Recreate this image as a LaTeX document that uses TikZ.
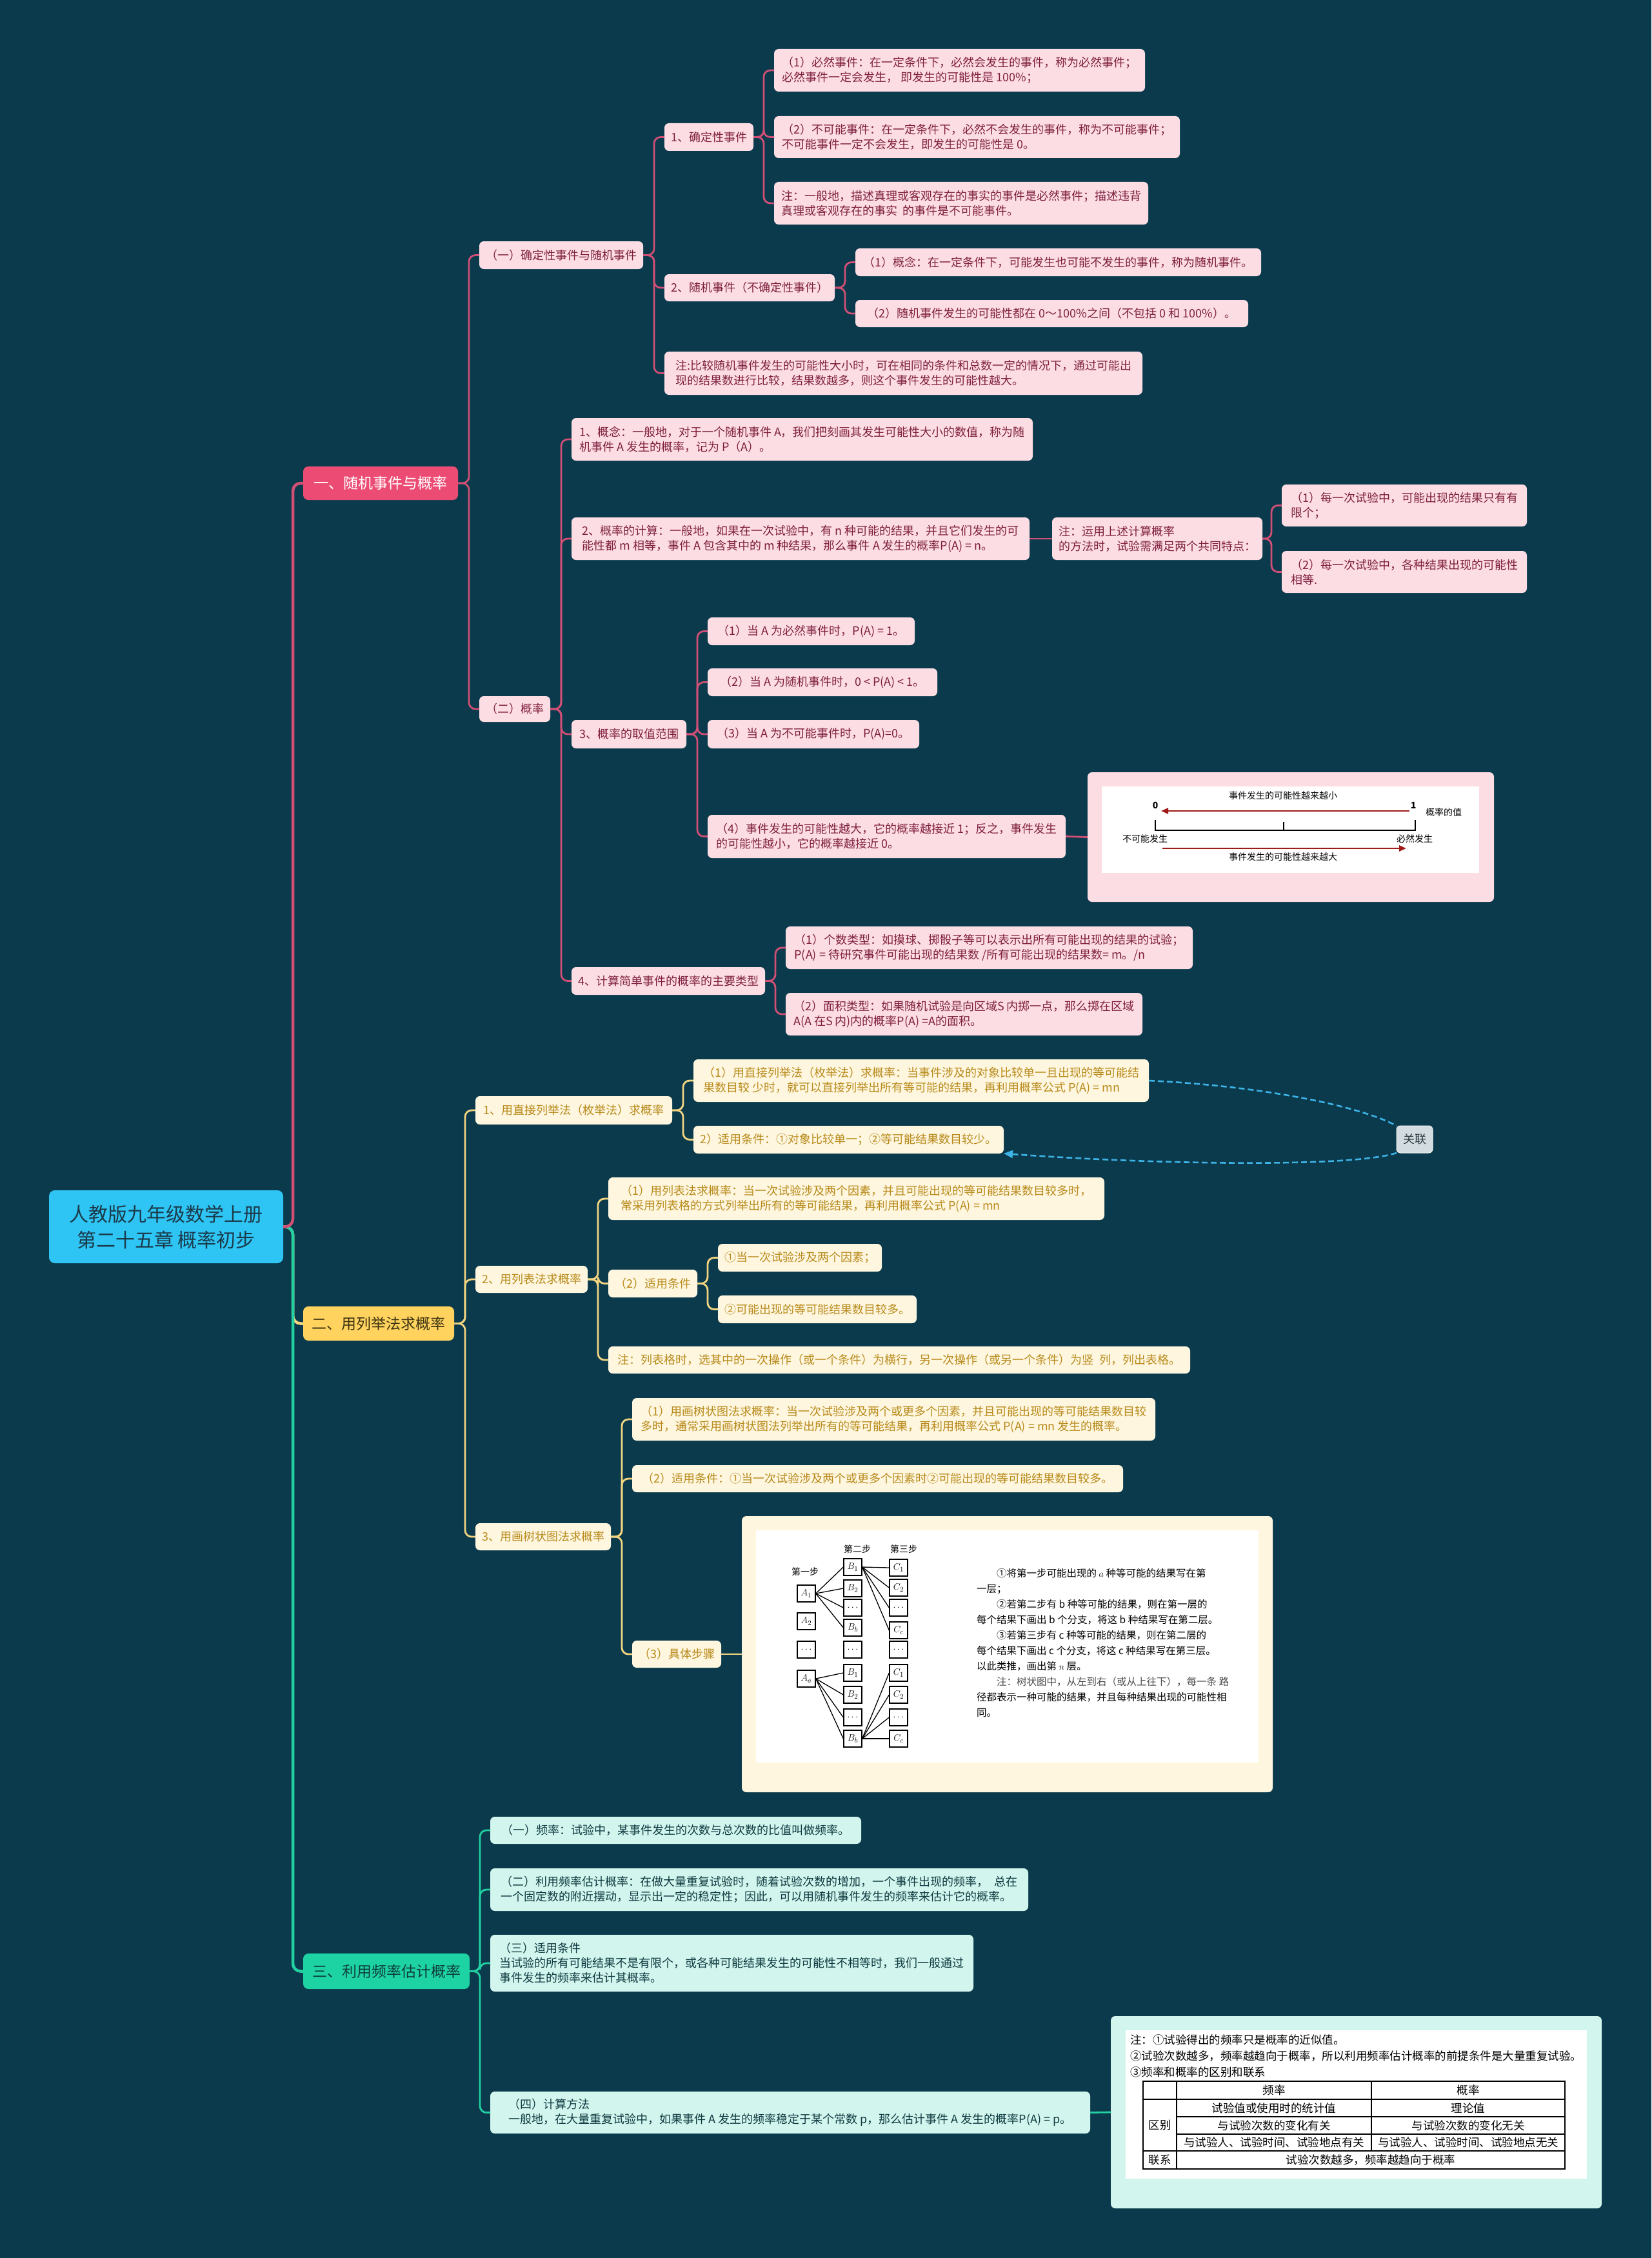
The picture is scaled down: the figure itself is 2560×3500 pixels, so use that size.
\documentclass[tikz,border=0pt]{standalone}
\usepackage{fontspec}
\setmainfont{Noto Sans CJK SC}
\usetikzlibrary{calc,arrows.meta}
\definecolor{bg}{HTML}{0A3A4C}
\definecolor{rootc}{HTML}{2EC4F3}
\definecolor{roottx}{HTML}{1B3A4A}
\definecolor{pL1}{HTML}{EC4C74}
\definecolor{pline}{HTML}{D24F75}
\definecolor{pfill}{HTML}{FDDDE4}
\definecolor{ptx}{HTML}{7E1F3D}
\definecolor{yL1}{HTML}{FFD35E}
\definecolor{yL1tx}{HTML}{3D3413}
\definecolor{yline}{HTML}{F3D581}
\definecolor{yfill}{HTML}{FEF6DF}
\definecolor{ytx}{HTML}{B88A1A}
\definecolor{gL1}{HTML}{1ED3A3}
\definecolor{gL1tx}{HTML}{0E3B3A}
\definecolor{gline}{HTML}{22D0A2}
\definecolor{gfill}{HTML}{D2F6EE}
\definecolor{gtx}{HTML}{0F3940}
\definecolor{relc}{HTML}{3DB3E6}
\definecolor{relfill}{HTML}{D3DDE1}
\definecolor{reltx}{HTML}{2D3A40}
\definecolor{arrred}{HTML}{A01818}
\tikzset{
 base/.style={rounded corners=7pt, inner xsep=10pt, inner ysep=0pt, outer sep=0pt, align=left, font=\fontsize{18}{23}\selectfont},
 pbox/.style={base, fill=pfill, text=ptx},
 ybox/.style={base, fill=yfill, text=ytx},
 gbox/.style={base, fill=gfill, text=gtx},
 rootbox/.style={base, rounded corners=9pt, fill=rootc, text=roottx, align=center, font=\fontsize{30}{40}\selectfont},
 lonep/.style={base, rounded corners=8pt, fill=pL1, text=white, font=\fontsize{23}{28}\selectfont},
 loney/.style={base, rounded corners=8pt, fill=yL1, text=yL1tx, font=\fontsize{23}{28}\selectfont},
 loneg/.style={base, rounded corners=8pt, fill=gL1, text=gL1tx, font=\fontsize{23}{28}\selectfont},
 relbox/.style={base, rounded corners=6pt, fill=relfill, text=reltx, draw=white!70!relfill, line width=1pt},
 trp/.style={draw=pline, line width=4.5pt, rounded corners=12pt},
 try/.style={draw=yline, line width=4.5pt, rounded corners=12pt},
 trg/.style={draw=gline, line width=4.5pt, rounded corners=12pt},
 lp/.style={draw=pline, line width=2.8pt, rounded corners=10pt},
 ly/.style={draw=yline, line width=2.8pt, rounded corners=10pt},
 lg/.style={draw=gline, line width=2.8pt, rounded corners=10pt},
 reldash/.style={draw=relc, line width=2.6pt, dash pattern=on 9pt off 5pt},
 tb/.style={draw=black, line width=1.3pt, fill=white, minimum width=28pt, minimum height=26pt, inner sep=0pt, font=\fontsize{15}{15}\selectfont},
 tl/.style={draw=black, line width=1.3pt},
 smalltx/.style={inner sep=0pt, font=\fontsize{14}{14}\selectfont, text=black},
 redarr/.style={draw=arrred, line width=2.5pt, -{Triangle[length=11pt,width=9pt]}},
 tabtx/.style={inner sep=0pt, font=\fontsize{17.5}{22}\selectfont, text=black},
}
\newcommand\bx[7]{%
 \pgfmathsetmacro\myBW{#5-#3}\pgfmathsetmacro\myBH{#6-#4}%
 \node[#2, anchor=north west, minimum width=\myBW pt, minimum height=\myBH pt] (#1) at (#3,#4) {#7};}
\newcommand\cn[3]{\draw[#1] let \p1=(#2.east), \p2=(#3.west) in (\p1) -- (\x2-16pt,\y1) |- (\p2);}
\begin{document}
\begin{tikzpicture}[x=1pt,y=-1pt]
\fill[bg] (0,0) rectangle (2560,3500);
\useasboundingbox (0,0) rectangle (2560,3500);

% root and level 1
\bx{root}{rootbox}{76}{1845}{439}{1958}{人教版九年级数学上册\\第二十五章 概率初步}
\bx{L1a}{lonep}{470}{723}{710}{775}{一、随机事件与概率}
\bx{Y}{loney}{470}{2025}{704}{2078}{二、用列举法求概率}
\bx{G}{loneg}{470}{3028}{728}{3083}{三、利用频率估计概率}

% pink section
\bx{P1}{pbox}{743}{374}{996}{417}{（一）确定性事件与随机事件}
\bx{P11}{pbox}{1030}{191}{1167}{234}{1、确定性事件}
\bx{P111}{pbox}{1200}{76}{1775}{142}{（1）必然事件：在一定条件下，必然会发生的事件，称为必然事件；\\必然事件一定会发生，\ 即发生的可能性是 100\%；}
\bx{P112}{pbox}{1200}{180}{1829}{245}{（2）不可能事件：在一定条件下，必然不会发生的事件，称为不可能事件；\\不可能事件一定不会发生，即发生的可能性是 0。}
\bx{P113}{pbox}{1200}{282}{1780}{348}{注：一般地，描述真理或客观存在的事实的事件是必然事件；描述违背\\真理或客观存在的事实\ \ 的事件是不可能事件。}
\bx{P12}{pbox}{1030}{425}{1293}{467}{2、随机事件（不确定性事件）}
\bx{P121}{pbox}{1326}{385}{1955}{428}{（1）概念：在一定条件下，可能发生也可能不发生的事件，称为随机事件。}
\bx{P122}{pbox}{1326}{465}{1935}{507}{（2）随机事件发生的可能性都在 0～100\%之间（不包括 0 和 100\%）。}
\bx{P13}{pbox}{1030}{545}{1771}{612}{注:比较随机事件发生的可能性大小时，可在相同的条件和总数一定的情况下，通过可能出\\现的结果数进行比较，结果数越多，则这个事件发生的可能性越大。}
\bx{P2}{pbox}{743}{1079}{853}{1119}{（二）概率}
\bx{P21}{pbox}{886}{648}{1601}{714}{1、概念：一般地，对于一个随机事件 A，我们把刻画其发生可能性大小的数值，称为随\\机事件 A 发生的概率，记为 P（A）。}
\bx{P22}{pbox}{886}{802}{1596}{868}{2、概率的计算：一般地，如果在一次试验中，有 n 种可能的结果，并且它们发生的可\\能性都 m 相等，事件 A 包含其中的 m 种结果，那么事件 A 发生的概率P(A) = n。}
\bx{P221}{pbox}{1631}{802}{1954}{868}{注：运用上述计算概率\\的方法时，试验需满足两个共同特点：}
\bx{P2211}{pbox}{1987}{751}{2367}{816}{（1）每一次试验中，可能出现的结果只有有\\限个；}
\bx{P2212}{pbox}{1987}{854}{2367}{919}{（2）每一次试验中，各种结果出现的可能性\\相等.}
\bx{P23}{pbox}{886}{1116}{1064}{1160}{3、概率的取值范围}
\bx{P231}{pbox}{1097}{957}{1418}{1000}{（1）当 A 为必然事件时，P(A) = 1。}
\bx{P232}{pbox}{1097}{1036}{1453}{1079}{（2）当 A 为随机事件时，0 < P(A) < 1。}
\bx{P233}{pbox}{1097}{1116}{1425}{1160}{（3）当 A 为不可能事件时，P(A)=0。}
\bx{P234}{pbox}{1097}{1263}{1652}{1330}{（4）事件发生的可能性越大，它的概率越接近 1；反之，事件发生\\的可能性越小，它的概率越接近 0。}
\bx{P2341}{pbox}{1686}{1197}{2316}{1398}{}
\bx{P24}{pbox}{886}{1499}{1185}{1542}{4、计算简单事件的概率的主要类型}
\bx{P241}{pbox}{1218}{1436}{1849}{1502}{（1）个数类型：如摸球、掷骰子等可以表示出所有可能出现的结果的试验；\\P(A) = 待研究事件可能出现的结果数 /所有可能出现的结果数= m。/n}
\bx{P242}{pbox}{1218}{1539}{1771}{1605}{（2）面积类型：如果随机试验是向区域S 内掷一点，那么掷在区域\\A(A 在S 内)内的概率P(A) =A的面积。}

% probability scale picture
\fill[white] (1708,1219) rectangle (2293,1353);
\node[smalltx] at (1989,1233) {事件发生的可能性越来越小};
\node[smalltx] at (1791,1248) {$\mathbf{0}$};
\node[smalltx] at (2191,1248) {$\mathbf{1}$};
\node[smalltx] at (2238,1259) {概率的值};
\draw[redarr] (2185,1257) -- (1800,1257);
\draw[black, line width=1.4pt] (1791,1271) -- (1791,1287) -- (2194,1287) -- (2194,1271);
\draw[black, line width=1.4pt] (1990,1287) -- (1990,1274);
\node[smalltx] at (1775,1300) {不可能发生};
\node[smalltx] at (2193,1300) {必然发生};
\draw[redarr] (1802,1315) -- (2180,1315);
\node[smalltx] at (1989,1328) {事件发生的可能性越来越大};

% yellow section
\bx{Y1}{ybox}{737}{1699}{1042}{1743}{1、用直接列举法（枚举法）求概率}
\bx{Y11}{ybox}{1075}{1642}{1781}{1708}{（1）用直接列举法（枚举法）求概率：当事件涉及的对象比较单一且出现的等可能结\\果数目较 少时，就可以直接列举出所有等可能的结果，再利用概率公式 P(A) = mn}
\bx{Y12}{ybox}{1075}{1745}{1556}{1788}{2）适用条件：①对象比较单一；②等可能结果数目较少。}
\bx{Y2}{ybox}{737}{1962}{910}{2004}{2、用列表法求概率}
\bx{Y21}{ybox}{943}{1825}{1712}{1891}{（1）用列表法求概率：当一次试验涉及两个因素，并且可能出现的等可能结果数目较多时，\\常采用列表格的方式列举出所有的等可能结果，再利用概率公式 P(A) = mn}
\bx{Y22}{ybox}{943}{1968}{1080}{2011}{（2）适用条件}
\bx{Y221}{ybox}{1113}{1928}{1366}{1971}{①当一次试验涉及两个因素；}
\bx{Y222}{ybox}{1113}{2008}{1420}{2051}{②可能出现的等可能结果数目较多。}
\bx{Y23}{ybox}{943}{2087}{1845}{2129}{注：列表格时，选其中的一次操作（或一个条件）为横行，另一次操作（或另一个条件）为竖\ \ 列，列出表格。}
\bx{Y3}{ybox}{737}{2361}{946}{2403}{3、用画树状图法求概率}
\bx{Y31}{ybox}{980}{2167}{1791}{2233}{（1）用画树状图法求概率：当一次试验涉及两个或更多个因素，并且可能出现的等可能结果数目较\\多时，通常采用画树状图法列举出所有的等可能结果，再利用概率公式 P(A) = mn 发生的概率。}
\bx{Y32}{ybox}{980}{2271}{1741}{2313}{（2）适用条件：①当一次试验涉及两个或更多个因素时②可能出现的等可能结果数目较多。}
\bx{Y33}{ybox}{980}{2543}{1116}{2585}{（3）具体步骤}
\bx{Y331}{ybox}{1150}{2350}{1973}{2778}{}
\bx{rel}{relbox}{2165}{1745}{2221}{1787}{关联}

% tree picture
\fill[white] (1172,2372) rectangle (1951,2732);
\node[smalltx] at (1248,2436) {第一步};
\node[smalltx] at (1329,2401) {第二步};
\node[smalltx] at (1401,2401) {第三步};
\foreach \nm/\yy/\lb in {a1/2470/{$A_1$},a2/2513/{$A_2$},a3/2557/{$\cdots$},aa/2602/{$A_a$}}
  \node[tb] (t-\nm) at (1250,\yy) {\lb};
\foreach \nm/\yy/\lb in {b1/2429/{$B_1$},b2/2462/{$B_2$},b3/2492/{$\cdots$},bb/2523/{$B_b$},b5/2557/{$\cdots$},b6/2593/{$B_1$},b7/2627/{$B_2$},b8/2662/{$\cdots$},b9/2695/{$B_b$}}
  \node[tb] (t-\nm) at (1322,\yy) {\lb};
\foreach \nm/\yy/\lb in {c1/2430/{$C_1$},c2/2461/{$C_2$},c3/2492/{$\cdots$},cc/2527/{$C_c$},c5/2557/{$\cdots$},c6/2593/{$C_1$},c7/2627/{$C_2$},c8/2662/{$\cdots$},c9/2695/{$C_c$}}
  \node[tb] (t-\nm) at (1393,\yy) {\lb};
\foreach \t in {b1,b2,b3,bb} \draw[tl] (t-a1.east) -- (t-\t.west);
\foreach \t in {c1,c2,c3,cc} \draw[tl] (t-b1.east) -- (t-\t.west);
\foreach \t in {b6,b7,b8,b9} \draw[tl] (t-aa.east) -- (t-\t.west);
\foreach \t in {c6,c7,c8,c9} \draw[tl] (t-b9.east) -- (t-\t.west);
\node[anchor=north west, inner sep=0pt, align=left, text=black, font=\fontsize{15.5}{24}\selectfont] at (1514,2431) {%
\hspace*{31pt}①将第一步可能出现的 $a$ 种等可能的结果写在第\\
一层；\\
\hspace*{31pt}②若第二步有 b 种等可能的结果，则在第一层的\\
每个结果下画出 b 个分支，将这 b 种结果写在第二层。\\
\hspace*{31pt}③若第三步有 c 种等可能的结果，则在第二层的\\
每个结果下画出 c 个分支，将这 c 种结果写在第三层。\\
以此类推，画出第 $n$ 层。\\
\hspace*{31pt}{\color{black!70}注：树状图中，从左到右（或从上往下），每一条 路}\\
径都表示一种可能的结果，并且每种结果出现的可能性相\\
同。};

% green section
\bx{G1}{gbox}{760}{2816}{1335}{2858}{（一）频率：试验中，某事件发生的次数与总次数的比值叫做频率。}
\bx{G2}{gbox}{760}{2896}{1594}{2962}{（二）利用频率估计概率：在做大量重复试验时，随着试验次数的增加，一个事件出现的频率，\ \ 总在\\一个固定数的附近摆动，显示出一定的稳定性；因此，可以用随机事件发生的频率来估计它的概率。}
\bx{G3}{gbox}{760}{2999}{1509}{3087}{（三）适用条件\\当试验的所有可能结果不是有限个，或各种可能结果发生的可能性不相等时，我们一般通过\\事件发生的频率来估计其概率。}
\bx{G4}{gbox}{760}{3242}{1690}{3307}{（四）计算方法\\一般地，在大量重复试验中，如果事件 A 发生的频率稳定于某个常数 p，那么估计事件 A 发生的概率P(A) = p。}
\bx{G41}{gbox}{1722}{3125}{2483}{3423}{}

% table picture
\fill[white] (1745,3147) rectangle (2460,3377);
\node[tabtx, anchor=west] at (1752,3162) {注：①试验得出的频率只是概率的近似值。};
\node[tabtx, anchor=west] at (1752,3187) {②试验次数越多，频率越趋向于概率，所以利用频率估计概率的前提条件是大量重复试验。};
\node[tabtx, anchor=west] at (1752,3212) {③频率和概率的区别和联系};
\draw[black, line width=1.4pt] (1772,3226) rectangle (2426,3362);
\draw[black, line width=1.2pt] (1824,3226) -- (1824,3362);
\draw[black, line width=1.2pt] (2126,3226) -- (2126,3334);
\draw[black, line width=1.2pt] (1772,3254) -- (2426,3254);
\draw[black, line width=1.2pt] (1824,3281) -- (2426,3281);
\draw[black, line width=1.2pt] (1824,3308) -- (2426,3308);
\draw[black, line width=1.2pt] (1772,3334) -- (2426,3334);
\node[tabtx] at (1975,3240) {频率};
\node[tabtx] at (2276,3240) {概率};
\node[tabtx] at (1975,3267.5) {试验值或使用时的统计值};
\node[tabtx] at (2276,3267.5) {理论值};
\node[tabtx] at (1975,3294.5) {与试验次数的变化有关};
\node[tabtx] at (2276,3294.5) {与试验次数的变化无关};
\node[tabtx] at (1975,3321) {与试验人、试验时间、试验地点有关};
\node[tabtx] at (2276,3321) {与试验人、试验时间、试验地点无关};
\node[tabtx] at (1798,3294) {区别};
\node[tabtx] at (1798,3348) {联系};
\node[tabtx] at (2125,3348) {试验次数越多，频率越趋向于概率};

% connectors: trunk
\cn{try}{root}{Y}
\cn{trg}{root}{G}
\cn{trp}{root}{L1a}
% pink
\cn{lp}{L1a}{P1}
\cn{lp}{L1a}{P2}
\cn{lp}{P1}{P11}
\cn{lp}{P1}{P12}
\cn{lp}{P1}{P13}
\cn{lp}{P11}{P111}
\cn{lp}{P11}{P112}
\cn{lp}{P11}{P113}
\cn{lp}{P12}{P121}
\cn{lp}{P12}{P122}
\cn{lp}{P2}{P21}
\cn{lp}{P2}{P22}
\cn{lp}{P2}{P23}
\cn{lp}{P2}{P24}
\draw[lp] (P22.east) -- (P221.west);
\cn{lp}{P221}{P2211}
\cn{lp}{P221}{P2212}
\cn{lp}{P23}{P231}
\cn{lp}{P23}{P232}
\cn{lp}{P23}{P233}
\cn{lp}{P23}{P234}
\draw[lp] (P234.east) -- (P2341.west);
\cn{lp}{P24}{P241}
\cn{lp}{P24}{P242}
% yellow
\cn{ly}{Y}{Y1}
\cn{ly}{Y}{Y2}
\cn{ly}{Y}{Y3}
\cn{ly}{Y1}{Y11}
\cn{ly}{Y1}{Y12}
\cn{ly}{Y2}{Y21}
\cn{ly}{Y2}{Y22}
\cn{ly}{Y2}{Y23}
\cn{ly}{Y22}{Y221}
\cn{ly}{Y22}{Y222}
\cn{ly}{Y3}{Y31}
\cn{ly}{Y3}{Y32}
\cn{ly}{Y3}{Y33}
\draw[ly] (Y33.east) -- (Y331.west);
% green
\cn{lg}{G}{G1}
\cn{lg}{G}{G2}
\cn{lg}{G}{G3}
\cn{lg}{G}{G4}
\draw[lg] (G4.east) -- (G41.west);
% relation
\draw[reldash] (Y11.east) .. controls +(170,8) and +(-60,-32) .. (rel.north west);
\draw[reldash, -{Triangle[length=14pt,width=12pt]}] (rel.south west) .. controls +(-65,22) and +(250,18) .. (Y12.south east);
\end{tikzpicture}
\end{document}
